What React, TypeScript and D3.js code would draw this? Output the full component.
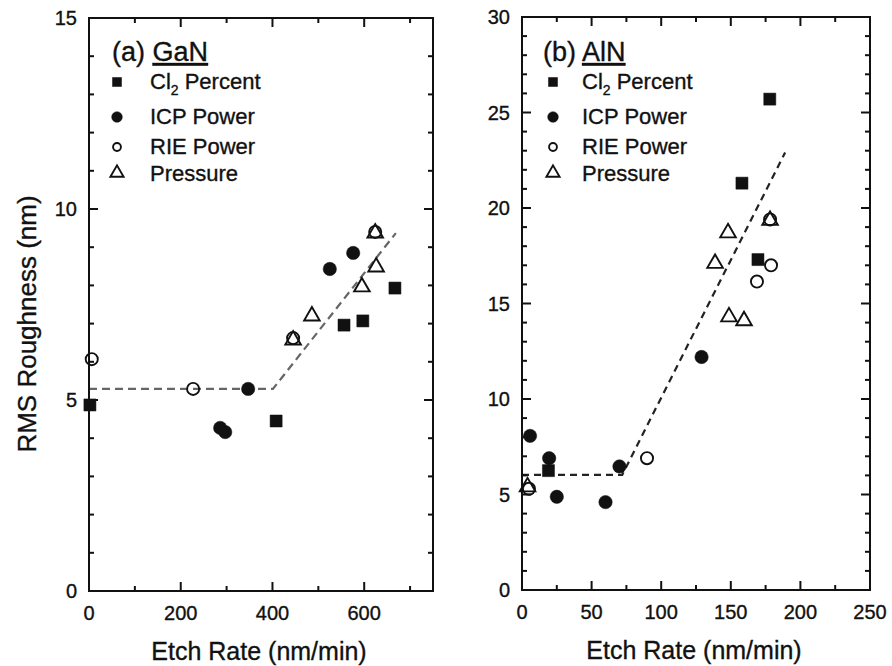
import React from 'react';
import * as d3 from 'd3';

const FONT = '"Liberation Sans", Arial, Helvetica, sans-serif';
const INK = '#111';
const TEXT_STROKE = 0.35;

// ---------- Panel (a) GaN ----------
const ganCl2: [number, number][] = [[2, 4.87], [408, 4.45], [556, 6.96], [597, 7.07], [667, 7.93]];
const ganIcp: [number, number][] = [[286, 4.27], [297, 4.16], [347, 5.29], [525, 8.43], [576, 8.85]];
const ganRie: [number, number][] = [[6, 6.07], [227, 5.29], [445, 6.62], [624, 9.4]];
const ganPressure: [number, number][] = [[445, 6.57], [486, 7.2], [595, 7.96], [626, 8.48], [624, 9.37]];
const ganFit: [number, number][] = [[0, 5.29], [401, 5.29], [669, 9.37]];
const ganXMajor = [0, 200, 400, 600];
const ganXMinor = [100, 300, 500, 700];
const ganYMajor = [0, 5, 10, 15];

// ---------- Panel (b) AlN ----------
const alnCl2: [number, number][] = [[19, 6.25], [158, 21.3], [169.5, 17.3], [178, 25.7]];
const alnIcp: [number, number][] = [[5.8, 8.07], [19.5, 6.9], [25, 4.88], [60, 4.6], [70, 6.47], [129, 12.2]];
const alnRie: [number, number][] = [[5, 5.3], [89.8, 6.9], [168.8, 16.15], [178.9, 17.0], [178.2, 19.4]];
const alnPressure: [number, number][] = [[4, 5.4], [138.7, 17.1], [148, 18.7], [148.7, 14.3], [159.5, 14.1], [178.2, 19.35]];
const alnFit: [number, number][] = [[0, 6.03], [72, 6.03], [189, 22.9]];
const alnXMajor = [0, 50, 100, 150, 200, 250];
const alnXMinor = [25, 75, 125, 175, 225];
const alnYMajor = [0, 5, 10, 15, 20, 25, 30];

const legendLabels = ['Cl', 'ICP Power', 'RIE Power', 'Pressure'];
const xTitle = 'Etch Rate (nm/min)';
const yTitle = 'RMS Roughness (nm)';

type Kind = 'square' | 'circle' | 'ocircle' | 'triangle';
const kinds: Kind[] = ['square', 'circle', 'ocircle', 'triangle'];

function Marker({ kind, x, y, scale = 1 }: { kind: Kind; x: number; y: number; scale?: number }) {
  const sizes: Record<Kind, number> = { square: 145, circle: 140, ocircle: 115, triangle: 105 };
  const types: Record<Kind, d3.SymbolType> = {
    square: d3.symbolSquare,
    circle: d3.symbolCircle,
    ocircle: d3.symbolCircle,
    triangle: d3.symbolTriangle,
  };
  const d = d3.symbol().type(types[kind]).size(sizes[kind] * scale * scale)() as string;
  const open = kind === 'ocircle' || kind === 'triangle';
  return (
    <path
      d={d}
      transform={`translate(${x},${y})`}
      fill={open ? 'none' : INK}
      stroke={INK}
      strokeWidth={open ? 1.9 : 0.5}
    />
  );
}

interface PanelProps {
  left: number; right: number; top: number; bottom: number;
  xDomain: [number, number]; yDomain: [number, number];
  xMajor: number[]; xMinor: number[]; yMajor: number[];
  series: [number, number][][];
  fit: [number, number][];
  fitColor: string; fitDash: string;
  tag: string; name: string;
  tagX: number; legendSymX: number; legendTextX: number;
}

function Panel(p: PanelProps) {
  const x = d3.scaleLinear().domain(p.xDomain).range([p.left, p.right]);
  const y = d3.scaleLinear().domain(p.yDomain).range([p.bottom, p.top]);
  const yMinor = d3.range(p.yDomain[0], p.yDomain[1] + 0.001, 1).filter((v) => !p.yMajor.includes(v));
  const line = d3.line<[number, number]>().x((d) => x(d[0])).y((d) => y(d[1]));
  const MAJ = 9, MIN = 5;
  const legendRows = [82, 117, 147, 173];
  const legendBase = [89, 124, 154, 181];
  const scales = [0.75, 0.8, 0.65, 0.85];
  const txt = { fontFamily: FONT, fill: INK, stroke: INK, strokeWidth: TEXT_STROKE };
  return (
    <g>
      <path d={line(p.fit) as string} fill="none" stroke={p.fitColor} strokeWidth={2.2} strokeDasharray={p.fitDash} />
      {p.series.map((s, i) =>
        s.map((d, j) => <Marker key={`${i}-${j}`} kind={kinds[i]} x={x(d[0])} y={y(d[1])} />)
      )}
      <rect x={p.left} y={p.top} width={p.right - p.left} height={p.bottom - p.top} fill="none" stroke={INK} strokeWidth={2} />
      {p.xMajor.map((v) => (
        <g key={`xm${v}`}>
          <line x1={x(v)} x2={x(v)} y1={p.bottom} y2={p.bottom - MAJ} stroke={INK} strokeWidth={2} />
          <line x1={x(v)} x2={x(v)} y1={p.top} y2={p.top + MAJ} stroke={INK} strokeWidth={2} />
          <text x={x(v)} y={p.bottom + 29} textAnchor="middle" fontSize={20} {...txt}>{v}</text>
        </g>
      ))}
      {p.xMinor.map((v) => (
        <g key={`xn${v}`}>
          <line x1={x(v)} x2={x(v)} y1={p.bottom} y2={p.bottom - MIN} stroke={INK} strokeWidth={2} />
          <line x1={x(v)} x2={x(v)} y1={p.top} y2={p.top + MIN} stroke={INK} strokeWidth={2} />
        </g>
      ))}
      {p.yMajor.map((v) => (
        <g key={`ym${v}`}>
          <line x1={p.left} x2={p.left + MAJ} y1={y(v)} y2={y(v)} stroke={INK} strokeWidth={2} />
          <line x1={p.right} x2={p.right - MAJ} y1={y(v)} y2={y(v)} stroke={INK} strokeWidth={2} />
          <text x={p.left - 12} y={y(v)} dy="0.36em" textAnchor="end" fontSize={20} {...txt}>{v}</text>
        </g>
      ))}
      {yMinor.map((v) => (
        <g key={`yn${v}`}>
          <line x1={p.left} x2={p.left + MIN} y1={y(v)} y2={y(v)} stroke={INK} strokeWidth={2} />
          <line x1={p.right} x2={p.right - MIN} y1={y(v)} y2={y(v)} stroke={INK} strokeWidth={2} />
        </g>
      ))}
      <text x={(p.left + p.right) / 2 - 2} y={p.bottom + 69} textAnchor="middle" fontSize={25} {...txt}>{xTitle}</text>
      <text x={p.tagX} y={61} fontSize={27} {...txt}>
        {p.tag + ' '}
        <tspan textDecoration="underline" style={{ textDecoration: 'underline' }}>{p.name}</tspan>
      </text>
      {kinds.map((k, i) => (
        <g key={`lg${k}`}>
          <Marker kind={k} x={p.legendSymX} y={legendRows[i]} scale={scales[i]} />
          <text x={p.legendTextX} y={legendBase[i]} fontSize={22} {...txt}>
            {legendLabels[i]}
            {i === 0 && (
              <>
                <tspan fontSize={14} dy={6}>2</tspan>
                <tspan dy={-6}> Percent</tspan>
              </>
            )}
          </text>
        </g>
      ))}
    </g>
  );
}

export default function App() {
  return (
    <svg width={892} height={666} style={{ position: 'absolute', left: 0, top: 0, background: '#fff' }}>
      <rect x={0} y={0} width={892} height={666} fill="#fff" />
      <text transform="translate(36,324) rotate(-90)" textAnchor="middle" fontSize={26} fontFamily={FONT} fill={INK} stroke={INK} strokeWidth={TEXT_STROKE}>{yTitle}</text>
      <Panel
        left={89} right={433} top={18} bottom={591}
        xDomain={[0, 750]} yDomain={[0, 15]}
        xMajor={ganXMajor} xMinor={ganXMinor} yMajor={ganYMajor}
        series={[ganCl2, ganIcp, ganRie, ganPressure]}
        fit={ganFit} fitColor="#666" fitDash="8,5"
        tag="(a)" name="GaN" tagX={112} legendSymX={117} legendTextX={150}
      />
      <Panel
        left={522} right={870} top={17} bottom={590}
        xDomain={[0, 250]} yDomain={[0, 30]}
        xMajor={alnXMajor} xMinor={alnXMinor} yMajor={alnYMajor}
        series={[alnCl2, alnIcp, alnRie, alnPressure]}
        fit={alnFit} fitColor="#222" fitDash="7,5"
        tag="(b)" name="AlN" tagX={543} legendSymX={553} legendTextX={582}
      />
    </svg>
  );
}
